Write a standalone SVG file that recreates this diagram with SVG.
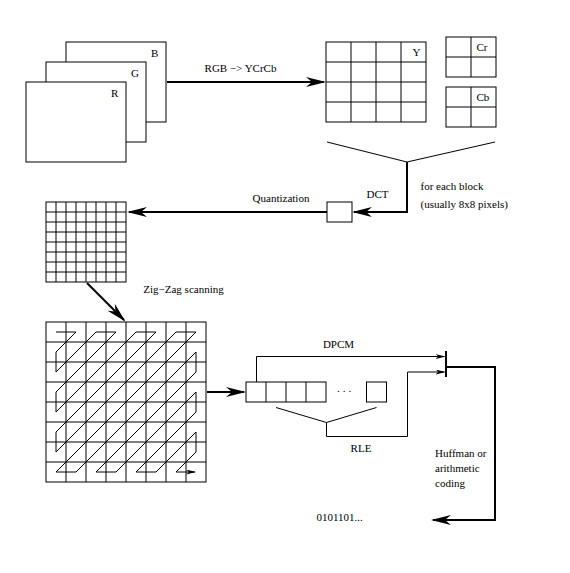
<svg xmlns="http://www.w3.org/2000/svg" width="570" height="573" viewBox="0 0 570 573">
<style>
  text { font-family: "Liberation Serif", "Times New Roman", serif; font-size: 11px; fill: #000; }
  .box { fill: #fff; stroke: #000; stroke-width: 1; }
  .grid { fill: none; stroke: #000; stroke-width: 1; }
  .thick { fill: none; stroke: #000; stroke-width: 2; }
  .thin { fill: none; stroke: #000; stroke-width: 1; }
  .zz { fill: none; stroke: #000; stroke-width: 1; }
</style>
<defs>
  <marker id="big" viewBox="0 0 20 10" markerUnits="userSpaceOnUse" markerWidth="20" markerHeight="10" refX="18" refY="5" orient="auto">
    <path d="M0,0 L20,5 L0,10 L6,5 Z" fill="#000"/>
  </marker>
  <marker id="small" viewBox="0 0 10 5" markerUnits="userSpaceOnUse" markerWidth="10" markerHeight="5" refX="9" refY="2.5" orient="auto">
    <path d="M0,0 L10,2.5 L0,5 L3,2.5 Z" fill="#000"/>
  </marker>
</defs>
<rect x="0" y="0" width="570" height="573" fill="#fff"/>

<g id="rgb-planes">
  <rect class="box" x="66" y="42" width="100" height="80"/>
  <text x="151" y="57">B</text>
  <rect class="box" x="46" y="62" width="100" height="80"/>
  <text x="131" y="77">G</text>
  <rect class="box" x="26" y="82" width="100" height="80"/>
  <text x="111" y="97">R</text>
</g>

<g id="y-block">
  <rect class="grid" x="326" y="42" width="100" height="80"/>
  <path class="grid" d="M351,42V122M376,42V122M401,42V122M326,62H426M326,82H426M326,102H426"/>
  <text x="412.5" y="56">Y</text>
</g>

<g id="cr-block">
  <rect class="grid" x="446" y="37" width="50" height="40"/>
  <path class="grid" d="M471,37V77M446,57H496"/>
  <text x="476.5" y="51">Cr</text>
</g>

<g id="cb-block">
  <rect class="grid" x="446" y="87" width="50" height="40"/>
  <path class="grid" d="M471,87V127M446,107H496"/>
  <text x="476.5" y="101">Cb</text>
</g>

<g id="dct-box">
  <rect class="box" x="327" y="202" width="25" height="20"/>
</g>

<g id="quant-grid">
  <rect class="grid" x="46" y="202" width="80" height="80"/>
  <path class="grid" d="M56,202V282M66,202V282M76,202V282M86,202V282M96,202V282M106,202V282M116,202V282M46,212H126M46,222H126M46,232H126M46,242H126M46,252H126M46,262H126M46,272H126"/>
</g>

<g id="zigzag-grid">
  <rect class="grid" x="46" y="322" width="160" height="160"/>
  <path class="grid" d="M66,322V482M86,322V482M106,322V482M126,322V482M146,322V482M166,322V482M186,322V482M46,342H206M46,362H206M46,382H206M46,402H206M46,422H206M46,442H206M46,462H206"/>
  <polyline class="zz" marker-end="url(#small)" points="56,332 76,332 56,352 56,372 96,332 116,332 56,392 56,412 136,332 156,332 56,432 56,452 176,332 196,332 56,472 76,472 196,352 196,372 96,472 116,472 196,392 196,412 136,472 156,472 196,432 196,452 176,472 195,472"/>
</g>

<g id="buffer">
  <rect class="grid" x="246" y="382" width="80" height="20"/>
  <path class="grid" d="M266,382V402M286,382V402M306,382V402"/>
  <text x="337" y="392" letter-spacing="3">...</text>
  <rect class="grid" x="366.5" y="382" width="20" height="20"/>
</g>

<g id="merge-bar">
  <path class="thick" d="M446,351V377"/>
</g>

<g id="connectors">
  <path class="thick" marker-end="url(#big)" d="M167,82H324"/>
  <path class="thin" d="M327,142L407,162L495,142"/>
  <path class="thick" marker-end="url(#big)" d="M407,162V212H354"/>
  <path class="thick" marker-end="url(#big)" d="M327,212H129"/>
  <path class="thick" marker-end="url(#big)" d="M87,283L124,320"/>
  <path class="thick" marker-end="url(#big)" d="M207,392H244"/>
  <path class="thin" marker-end="url(#small)" d="M256.5,382V356.5H444.5"/>
  <path class="thin" d="M276,407.5L326.5,422.5L376.5,407.5"/>
  <path class="thin" marker-end="url(#small)" d="M326.5,422.5V436.5H407.5V372H444.5"/>
  <path class="thick" marker-end="url(#big)" d="M447,367H495V520H433"/>
</g>

<g id="labels">
  <text x="240.5" y="72" text-anchor="middle">RGB −&gt; YCrCb</text>
  <text x="420.5" y="190">for each block</text>
  <text x="420.5" y="208">(usually 8x8 pixels)</text>
  <text x="377.5" y="198" text-anchor="middle">DCT</text>
  <text x="281" y="201.5" text-anchor="middle">Quantization</text>
  <text x="183.5" y="292.5" text-anchor="middle">Zig−Zag scanning</text>
  <text x="338.5" y="348" text-anchor="middle">DPCM</text>
  <text x="361" y="451.5" text-anchor="middle">RLE</text>
  <text x="435" y="456.5">Huffman or</text>
  <text x="435" y="471.5">arithmetic</text>
  <text x="435" y="486.5">coding</text>
  <text x="316.5" y="520.5">0101101...</text>
</g>
</svg>
